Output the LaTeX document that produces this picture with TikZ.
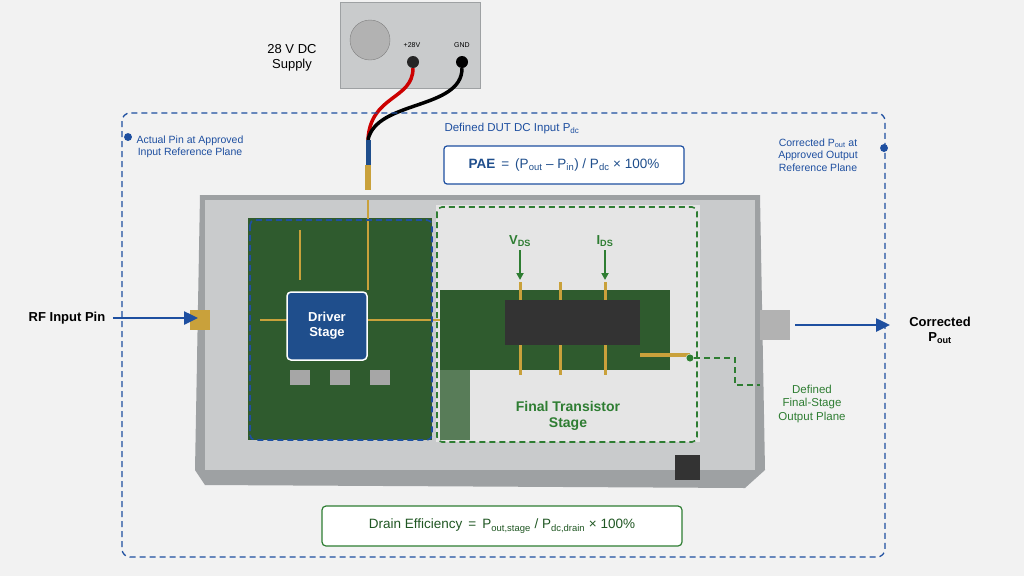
\documentclass[tikz,border=0pt]{standalone}
\usepackage{fontspec}
\setmainfont{Liberation Sans}
\usetikzlibrary{arrows.meta}
\definecolor{bg}{HTML}{F2F2F2}
\definecolor{bl}{HTML}{1E4FA0}
\definecolor{gr}{HTML}{2E7D32}
\definecolor{metal}{HTML}{C9CBCC}
\definecolor{metald}{HTML}{9EA1A3}
\definecolor{pcb}{HTML}{2F5B2E}
\definecolor{gold}{HTML}{C9A13B}
\definecolor{navy}{HTML}{1F4E8C}
\begin{document}
\begin{tikzpicture}[x=1pt,y=-1pt,
  lbl/.style={font=\fontsize{10.5}{12.5}\selectfont,align=center},
  big/.style={font=\bfseries\fontsize{12}{14}\selectfont,align=center},
  arr/.style={-{Triangle[length=14pt,width=13pt]},line width=2.5pt,bl},
  dsh/.style={dash pattern=on 6pt off 4pt},
  dot/.style={circle,fill,inner sep=2.8pt}]
\useasboundingbox (0,0) rectangle (1024,576);
\fill[bg] (0,0) rectangle (1024,576);
% power supply
\node[draw=metald,fill=metal,minimum width=140pt,minimum height=86pt,anchor=north west,inner sep=0] (psu) at (340,2) {};
\node[circle,draw=gray,fill=gray!60,minimum size=40pt] (fan) at (370,40) {};
\node[font=\fontsize{7}{8}\selectfont] (p28) at (412,45) {+28V};
\node[font=\fontsize{7}{8}\selectfont] (gnd) at (462,45) {GND};
\node[circle,fill=gray!30!black,minimum size=12pt] (tp) at (413,62) {};
\node[circle,fill=black,minimum size=12pt] (tg) at (462,62) {};
\node[big,font=\fontsize{13}{15}\selectfont] (sup) at (292,58) {28 V DC\\Supply};
% cables
\coordinate (cj) at (368,140);
\draw[line width=3.5pt,red!80!black] (tp) .. controls (413,100) and (370,95) .. (cj);
\draw[line width=3.5pt,black] (tg) .. controls (462,110) and (376,100) .. (cj);
\coordinate (conn) at (368,190);
\draw[line width=5pt,navy] (cj) -- (368,165);
\draw[line width=6pt,gold] (368,165) -- (conn);
% outer dashed frame
\draw[bl,dsh,line width=1.3pt,rounded corners=8pt] (122,113) rectangle (885,557);
\node[dot,bl] (dl) at (128,137) {};
\node[dot,bl] (dr) at (884,148) {};
\node[lbl,bl] (pin) at (190,147) {Actual Pin at Approved\\Input Reference Plane};
\node[lbl,bl] (pout) at (818,155) {Corrected P\textsubscript{out} at\\Approved Output\\Reference Plane};
\node[lbl,bl,font=\fontsize{11.5}{13}\selectfont] (dc) at (512,129) {Defined DUT DC Input P\textsubscript{dc}};
\node[draw=bl,fill=white,line width=1.2pt,rounded corners=3pt,minimum width=240pt,minimum height=38pt,text=navy,font=\fontsize{13.5}{15}\selectfont] (pae) at (564,165) {\textbf{PAE} \,=\, (P\textsubscript{out} -- P\textsubscript{in}) / P\textsubscript{dc} × 100\%};
% module enclosure
\fill[metald] (200,195) -- (760,195) -- (765,470) -- (745,488) -- (205,485) -- (195,470) -- cycle;
\fill[metal] (205,200) rectangle (755,470);
\fill[gray!20] (436,205) rectangle (700,442);
\fill[pcb] (248,218) rectangle (432,440);
\fill[pcb] (440,290) rectangle (670,370);
\fill[pcb!80] (440,370) rectangle (470,440);
\foreach \x in {520,560,605} \draw[gold,line width=3pt] (\x,282) -- (\x,375);
\fill[black!80] (505,300) rectangle (640,345);
\draw[gold,line width=4pt] (640,355) -- (690,355);
\foreach \x/\y in {300,340,380} \fill[gray!70] (\x-10,370) rectangle (\x+10,385);
\draw[gold,line width=2pt] (260,320) -- (440,320) (368,200) -- (368,290) (300,230) -- (300,280);
\fill[gold] (190,310) rectangle (210,330);
\fill[gray!60] (760,310) rectangle (790,340);
\fill[black!80] (675,455) rectangle (700,480);
% driver
\draw[bl,dsh,line width=1.6pt,rounded corners=5pt] (250,220) rectangle (432,440);
\node[draw=white,line width=1.5pt,fill=navy,rounded corners=4pt,minimum width=80pt,minimum height=68pt,text=white,big,font=\bfseries\fontsize{13}{15}\selectfont] (drv) at (327,326) {Driver\\Stage};
% final
\draw[gr,dsh,line width=1.6pt,rounded corners=5pt] (437,207) rectangle (697,442);
\node[text=gr,big,font=\bfseries\fontsize{13}{15}\selectfont] (vds) at (520,241) {V\textsubscript{DS}};
\node[text=gr,big,font=\bfseries\fontsize{13}{15}\selectfont] (ids) at (605,241) {I\textsubscript{DS}};
\coordinate (vt) at (520,280); \coordinate (it) at (605,280);
\draw[gr,line width=2pt,-{Triangle[length=7pt,width=7pt]}] (vds) -- (vt);
\draw[gr,line width=2pt,-{Triangle[length=7pt,width=7pt]}] (ids) -- (it);
\node[text=gr,big,font=\bfseries\fontsize{14}{16}\selectfont] (fts) at (568,416) {Final Transistor\\Stage};
\node[dot,gr,draw=white] (gd) at (690,358) {};
\coordinate (gk) at (735,385);
\draw[gr,dsh,line width=1.1pt] (gd) -| (gk) -- (760,385);
\node[lbl,text=gr,font=\fontsize{11.5}{13.5}\selectfont] (fso) at (812,404) {Defined\\Final-Stage\\Output Plane};
% rf in/out
\node[big,text=black,font=\bfseries\fontsize{13}{15}\selectfont] (rfin) at (67,318) {RF Input Pin};
\coordinate (rfa) at (198,318);
\draw[arr] (rfin.east) ++(4,0) -- (rfa);
\coordinate (oa) at (795,325); \coordinate (ob) at (890,325);
\draw[arr] (oa) -- (ob);
\node[big,text=black,font=\bfseries\fontsize{13}{15}\selectfont] (cout) at (940,330) {Corrected\\P\textsubscript{out}};
% drain efficiency
\node[draw=gr,fill=white,line width=1.2pt,rounded corners=4pt,minimum width=360pt,minimum height=40pt,text=gr!70!black,font=\fontsize{13.5}{15}\selectfont] (de) at (502,526) {Drain Efficiency \,=\, P\textsubscript{out,stage} / P\textsubscript{dc,drain} × 100\%};
\end{tikzpicture}
\end{document}
